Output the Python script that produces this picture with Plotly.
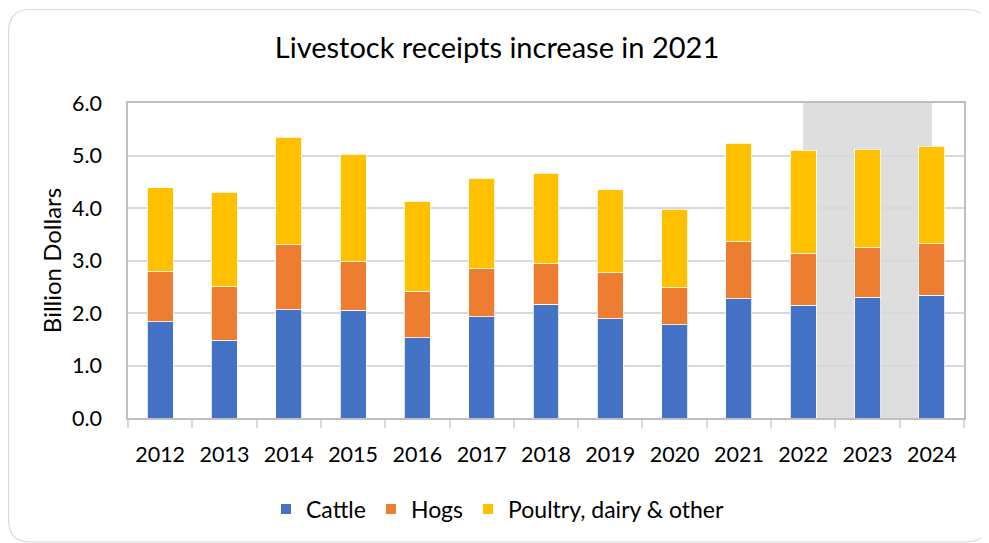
import plotly.graph_objects as go

years = ["2012", "2013", "2014", "2015", "2016", "2017", "2018",
         "2019", "2020", "2021", "2022", "2023", "2024"]
cattle = [1.83, 1.48, 2.06, 2.05, 1.53, 1.93, 2.17, 1.89, 1.78, 2.27, 2.15, 2.30, 2.34]
hogs = [0.96, 1.02, 1.24, 0.93, 0.88, 0.91, 0.77, 0.88, 0.70, 1.09, 0.99, 0.94, 0.98]
poultry = [1.60, 1.80, 2.05, 2.04, 1.72, 1.73, 1.72, 1.58, 1.50, 1.87, 1.96, 1.88, 1.86]
forecast_start = "2022"
forecast_end = "2024"

# page has an 8px body margin, so the figure is laid out 8px up/left
W, H = 981, 535
ML, MR, MT, MB = 120, 25, 95, 125
PW, PH = W - ML - MR, H - MT - MB

def px(x):
    return (x - ML) / PW

def py(y):
    return (H - MB - y) / PH

fig = go.Figure()
series = [("Cattle", cattle, "#4472C4"), ("Hogs", hogs, "#ED7D31"),
          ("Poultry, dairy & other", poultry, "#FFC000")]
for name, vals, col in series:
    fig.add_trace(go.Bar(x=years, y=vals, name=name,
                         marker=dict(color=col, line=dict(color="white", width=0.8))))

# shaded forecast region (centre of 2022 to centre of 2024)
fig.add_shape(type="rect", xref="x", yref="y",
              x0=years.index(forecast_start), x1=years.index(forecast_end),
              y0=0, y1=6, fillcolor="#DEDEDE", line_width=0, layer="below")

# rounded outer border
x0, y0, x1, y1, r = 0.6, 1.5, 980, 534, 22
path = (f"M {px(x0 + r)},{py(y0)} L {px(x1 - r)},{py(y0)} "
        f"Q {px(x1)},{py(y0)} {px(x1)},{py(y0 + r)} "
        f"L {px(x1)},{py(y1 - r)} Q {px(x1)},{py(y1)} {px(x1 - r)},{py(y1)} "
        f"L {px(x0 + r)},{py(y1)} Q {px(x0)},{py(y1)} {px(x0)},{py(y1 - r)} "
        f"L {px(x0)},{py(y0 + r)} Q {px(x0)},{py(y0)} {px(x0 + r)},{py(y0)} Z")
fig.add_shape(type="path", xref="paper", yref="paper", path=path,
              line=dict(color="#D9D9D9", width=1.2), fillcolor="rgba(0,0,0,0)",
              layer="above")

FONT = "Lato"
fig.update_layout(
    width=W, height=H,
    margin=dict(l=ML, r=MR, t=MT, b=MB, autoexpand=False),
    barmode="stack", bargap=0.596,
    paper_bgcolor="white", plot_bgcolor="rgba(0,0,0,0)",
    font=dict(family=FONT, color="#000000", size=21),
    title=dict(text="Livestock receipts increase in 2021", x=489 / W, xref="container",
               xanchor="center", y=1 - 40 / H, yref="container", yanchor="middle",
               font=dict(family=FONT, size=29, color="#000000")),
    legend=dict(orientation="h", xref="container", x=490 / W, xanchor="center",
                yref="container", y=1 - 501 / H, yanchor="middle",
                font=dict(family=FONT, size=23), traceorder="normal",
                itemwidth=30, itemsizing="constant", bgcolor="rgba(0,0,0,0)"),
    showlegend=True,
)
fig.update_xaxes(type="category", showline=True, linecolor="#BFBFBF", linewidth=1.5,
                 mirror=True, ticks="outside", tickson="boundaries", ticklen=8,
                 tickcolor="#D9D9D9", tickwidth=1.5, showgrid=False,
                 tickfont=dict(family=FONT, size=21.5), ticklabelstandoff=16,
                 automargin=False)
fig.update_yaxes(range=[0, 6], dtick=1, tickformat=".1f", showline=True,
                 linecolor="#BFBFBF", linewidth=1.5, mirror=True,
                 showgrid=True, gridcolor="#D9D9D9", gridwidth=1.5, zeroline=False,
                 ticks="", tickfont=dict(family=FONT, size=21.5), ticklabelstandoff=20,
                 title=dict(text="Billion Dollars", font=dict(family=FONT, size=24),
                            standoff=4),
                 automargin=False)

fig.write_html("out.html")
